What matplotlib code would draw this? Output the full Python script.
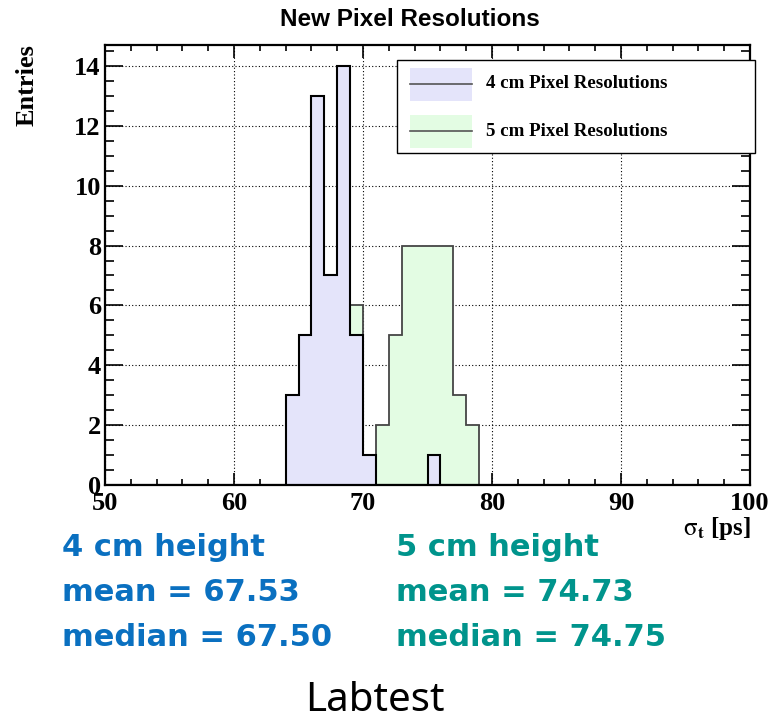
import numpy as np
import matplotlib
matplotlib.use("Agg")
import matplotlib.pyplot as plt
from matplotlib.patches import Rectangle
from matplotlib.lines import Line2D
from matplotlib.ticker import MultipleLocator

# ---- data ----
bin_edges = list(range(50, 101))          # 1 ps bins from 50 to 100
blue_counts_by_bin = {64: 3, 65: 5, 66: 13, 67: 7, 68: 14, 69: 5, 70: 1, 75: 1}
green_counts_by_bin = {69: 6, 71: 2, 72: 5, 73: 8, 74: 8, 75: 8, 76: 8, 77: 3, 78: 2}
series_labels = ["4 cm Pixel Resolutions", "5 cm Pixel Resolutions"]
stats_4cm = ["4 cm height", "mean = 67.53", "median = 67.50"]
stats_5cm = ["5 cm height", "mean = 74.73", "median = 74.75"]
title = "New Pixel Resolutions"
footer = "Labtest"

blue_counts = np.array([blue_counts_by_bin.get(b, 0) for b in bin_edges[:-1]])
green_counts = np.array([green_counts_by_bin.get(b, 0) for b in bin_edges[:-1]])

W, H = 772, 721
plt.rcParams['mathtext.fontset'] = 'stix'
fig = plt.figure(figsize=(W / 100, H / 100), dpi=100)

def fx(x):
    return x / W

def fy(y):
    return 1 - y / H

ax = fig.add_axes([fx(105), fy(485), fx(750) - fx(105), fy(45) - fy(485)])

BLUE_FILL = "#e4e4fa"
GREEN_FILL = "#e3fce3"

# green first, blue on top
ax.stairs(green_counts, bin_edges, fill=True, color=GREEN_FILL, zorder=2)
ax.stairs(green_counts, bin_edges, baseline=0, fill=False, color="#454545", lw=1.3, zorder=2.1)
ax.stairs(blue_counts, bin_edges, fill=True, color=BLUE_FILL, zorder=3)
ax.stairs(blue_counts, bin_edges, baseline=0, fill=False, color="black", lw=1.5, zorder=3.1)

ax.set_xlim(50, 100)
ax.set_ylim(0, 14.7)
ax.xaxis.set_major_locator(MultipleLocator(10))
ax.xaxis.set_minor_locator(MultipleLocator(2))
ax.yaxis.set_major_locator(MultipleLocator(2))
ax.yaxis.set_minor_locator(MultipleLocator(0.5))
ax.grid(True, which="major", color="black", linestyle=(0, (1, 2)), lw=0.8, zorder=1)
ax.set_axisbelow(True)

ax.tick_params(axis="both", which="both", direction="in", top=True, right=True, width=1.2, color="black")
ax.tick_params(axis="x", which="major", length=9, pad=5)
ax.tick_params(axis="x", which="minor", length=4.5)
ax.tick_params(axis="y", which="major", length=13, pad=3)
ax.tick_params(axis="y", which="minor", length=6.5)
for lab in ax.get_xticklabels() + ax.get_yticklabels():
    lab.set_fontfamily("Liberation Serif")
    lab.set_fontweight("bold")
    lab.set_fontsize(19)

for s in ax.spines.values():
    s.set_linewidth(1.6)
    s.set_zorder(5)

# axis labels
fig.text(fx(751), fy(528), r"$\mathrm{\sigma}_{\mathbf{t}}$ [ps]", ha="right", va="center",
         fontfamily="Liberation Serif", fontweight="bold", fontsize=18)
fig.text(fx(27), fy(85), "Entries", rotation=90, ha="center", va="center",
         fontfamily="Liberation Serif", fontweight="bold", fontsize=19)
fig.text(fx(410), fy(19), title, ha="center", va="center",
         fontfamily="Liberation Sans", fontweight="bold", fontsize=17.5)

# legend box (drawn in figure coordinates)
fig.patches.append(Rectangle((fx(397), fy(153)), fx(755) - fx(397), fy(60) - fy(153),
                             transform=fig.transFigure, facecolor="white", edgecolor="black",
                             lw=1.0, zorder=10))
for i, (lab, fc) in enumerate(zip(series_labels, [BLUE_FILL, GREEN_FILL])):
    yc = 84 + i * 47
    fig.patches.append(Rectangle((fx(410), fy(yc + 17)), fx(472) - fx(410), fy(yc - 16) - fy(yc + 17),
                                 transform=fig.transFigure, facecolor=fc, edgecolor="none", zorder=11))
    fig.lines.append(Line2D([fx(410), fx(472)], [fy(yc), fy(yc)], transform=fig.transFigure,
                            color="#555555", lw=1.2, zorder=12))
    fig.text(fx(486), fy(yc), lab, ha="left", va="center", fontfamily="Liberation Serif",
             fontweight="bold", fontsize=13.6, zorder=13)

# stats text below
for lines, x0, col in [(stats_4cm, 62, "#0a70c0"), (stats_5cm, 396, "#00948c")]:
    for j, t in enumerate(lines):
        fig.text(fx(x0), fy(548 + j * 44.5), t, ha="left", va="center", color=col,
                 fontfamily="DejaVu Sans", fontweight="bold", fontsize=22)

fig.text(fx(375), fy(711), footer, ha="center", va="baseline", color="black",
         fontfamily="Noto Sans", fontsize=29)

fig.savefig("out.png", dpi=100)
